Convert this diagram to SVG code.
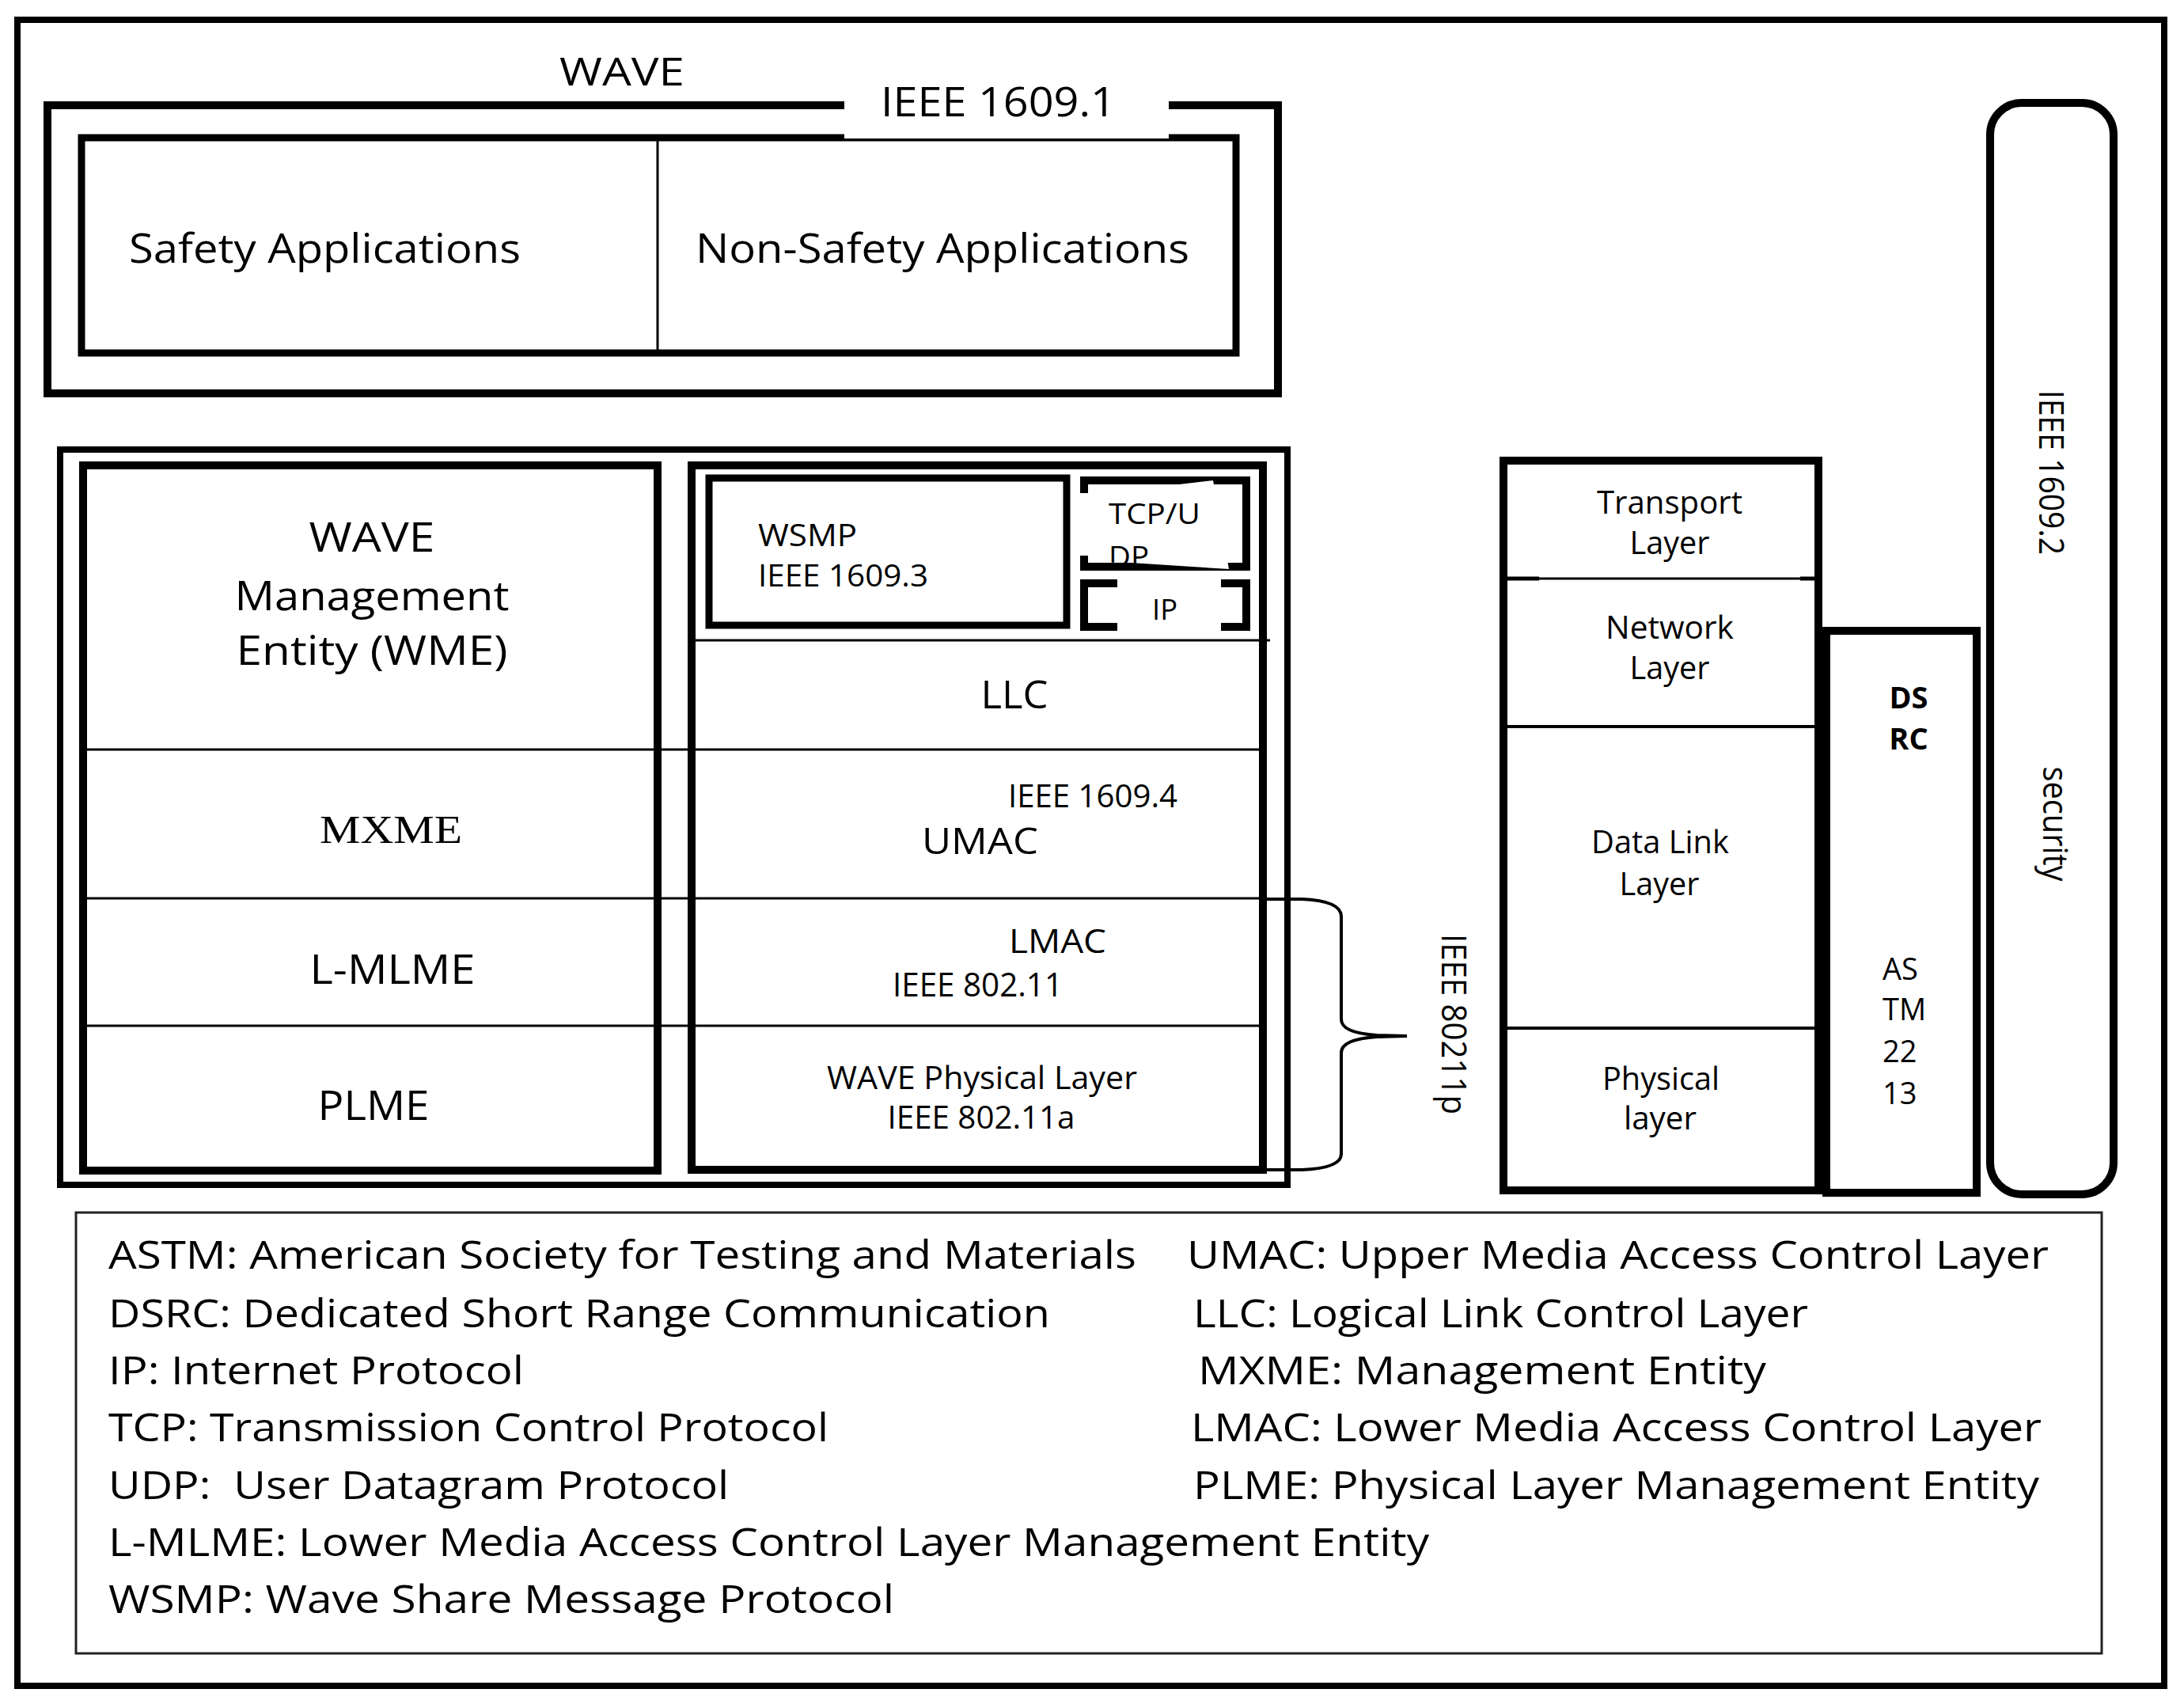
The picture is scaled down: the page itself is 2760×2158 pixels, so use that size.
<svg xmlns="http://www.w3.org/2000/svg" width="2760" height="2158" viewBox="0 0 2760 2158">
<style>
.t{font-family:"Open Sans","Noto Sans","DejaVu Sans",sans-serif;fill:#000}
.s{font-family:"Liberation Serif","DejaVu Serif",serif;fill:#000}
.b{font-weight:bold}
.box{fill:none;stroke:#000}
.thin{fill:none;stroke:#000;stroke-width:3}
.mid{text-anchor:middle}
</style>
<defs>
<clipPath id="tcpclip"><polygon points="1376,612 1490,612 1533,607 1553,719 1376,709"/></clipPath>
</defs>
<rect x="0" y="0" width="2760" height="2158" fill="#fff"/>

<g id="frame">
<rect class="box" x="22" y="25" width="2713" height="2105" stroke-width="8"/>
</g>

<g id="wave-title">
<text class="t mid" x="786" y="108" font-size="50" textLength="158" lengthAdjust="spacingAndGlyphs">WAVE</text>
</g>

<g id="applications">
<rect class="box" x="60" y="133" width="1555" height="364" stroke-width="10"/>
<rect class="box" x="103" y="174" width="1459" height="272" stroke-width="9"/>
<rect x="1067" y="116" width="410" height="59" fill="#fff"/>
<line class="thin" x1="831" y1="178" x2="831" y2="442"/>
<text class="t" x="1113" y="147" font-size="52" textLength="297" lengthAdjust="spacingAndGlyphs">IEEE 1609.1</text>
<text class="t" x="163" y="332" font-size="52" textLength="495" lengthAdjust="spacingAndGlyphs">Safety Applications</text>
<text class="t" x="879" y="332" font-size="52" textLength="624" lengthAdjust="spacingAndGlyphs">Non-Safety Applications</text>
</g>

<g id="wave-stack">
<rect class="box" x="76" y="568" width="1551" height="929" stroke-width="8"/>
</g>

<g id="management">
<rect class="box" x="105" y="588" width="726" height="891" stroke-width="10"/>
<text class="t mid" x="470" y="697" font-size="52" textLength="159" lengthAdjust="spacingAndGlyphs">WAVE</text>
<text class="t mid" x="470" y="771" font-size="52" textLength="347" lengthAdjust="spacingAndGlyphs">Management</text>
<text class="t mid" x="470" y="840" font-size="52" textLength="343" lengthAdjust="spacingAndGlyphs">Entity (WME)</text>
<text class="s mid" x="494" y="1065" font-size="51" textLength="180" lengthAdjust="spacingAndGlyphs">MXME</text>
<text class="t mid" x="496" y="1243" font-size="52" textLength="209" lengthAdjust="spacingAndGlyphs">L-MLME</text>
<text class="t mid" x="472" y="1415" font-size="52" textLength="141" lengthAdjust="spacingAndGlyphs">PLME</text>
</g>

<g id="protocols">
<rect class="box" x="874" y="588" width="722" height="890" stroke-width="10"/>
<line class="thin" x1="879" y1="809" x2="1605" y2="809"/>
<text class="t mid" x="1282" y="895" font-size="50" textLength="85" lengthAdjust="spacingAndGlyphs">LLC</text>
<text class="t" x="1274" y="1020" font-size="40" textLength="214" lengthAdjust="spacingAndGlyphs">IEEE 1609.4</text>
<text class="t" x="1165" y="1079" font-size="46" textLength="147" lengthAdjust="spacingAndGlyphs">UMAC</text>
<text class="t" x="1275" y="1204" font-size="42" textLength="123" lengthAdjust="spacingAndGlyphs">LMAC</text>
<text class="t" x="1128" y="1259" font-size="42" textLength="215" lengthAdjust="spacingAndGlyphs">IEEE 802.11</text>
<text class="t mid" x="1241" y="1376" font-size="40" textLength="392" lengthAdjust="spacingAndGlyphs">WAVE Physical Layer</text>
<text class="t mid" x="1240" y="1426" font-size="40" textLength="237" lengthAdjust="spacingAndGlyphs">IEEE 802.11a</text>
</g>

<g id="wsmp">
<rect class="box" x="896" y="604" width="452" height="186" stroke-width="9"/>
<text class="t" x="958" y="690" font-size="39" textLength="125" lengthAdjust="spacingAndGlyphs">WSMP</text>
<text class="t" x="958" y="741" font-size="39" textLength="215" lengthAdjust="spacingAndGlyphs">IEEE 1609.3</text>
</g>

<g id="tcp-udp">
<path class="box" stroke-width="10" d="M1370,623 L1370,607 L1575,607 L1575,716 L1370,716 L1370,702"/>
<polygon points="1398,612 1490,612 1533,607 1553,719 1398,709" fill="#fff"/>
<g clip-path="url(#tcpclip)">
<text class="t" x="1401" y="662" font-size="36" textLength="116" lengthAdjust="spacingAndGlyphs">TCP/U</text>
<text class="t" x="1401" y="716" font-size="36" textLength="51" lengthAdjust="spacingAndGlyphs">DP</text>
</g>
</g>

<g id="ip">
<path class="box" stroke-width="10" d="M1412,737 L1370,737 L1370,792 L1412,792"/>
<path class="box" stroke-width="10" d="M1543,737 L1575,737 L1575,792 L1543,792"/>
<text class="t" x="1456" y="783" font-size="36" textLength="32" lengthAdjust="spacingAndGlyphs">IP</text>
</g>

<g id="connectors">
<line class="thin" x1="110" y1="947" x2="1596" y2="947"/>
<line class="thin" x1="110" y1="1135" x2="1596" y2="1135"/>
<line class="thin" x1="110" y1="1296" x2="1596" y2="1296"/>
<path fill="none" stroke="#000" stroke-width="4" d="M1596,1136 L1645,1136 Q1695,1138 1695,1158 L1695,1288 Q1695,1305 1740,1308 L1778,1309 L1740,1310 Q1695,1313 1695,1330 L1695,1458 Q1695,1476 1645,1478 L1596,1478"/>
</g>

<g id="ieee80211p">
<text class="t mid" transform="translate(1822,1294) rotate(90)" font-size="44" textLength="228" lengthAdjust="spacingAndGlyphs">IEEE 80211p</text>
</g>

<g id="osi">
<rect class="box" x="1900" y="582" width="398" height="922" stroke-width="10"/>
<line class="thin" x1="1905" y1="731" x2="2293" y2="731"/>
<line fill="none" stroke="#000" stroke-width="5" x1="1905" y1="731" x2="1945" y2="731"/>
<line fill="none" stroke="#000" stroke-width="5" x1="2275" y1="731" x2="2293" y2="731"/>
<line fill="none" stroke="#000" stroke-width="4" x1="1905" y1="918" x2="2293" y2="918"/>
<line fill="none" stroke="#000" stroke-width="4" x1="1905" y1="1299" x2="2293" y2="1299"/>
<text class="t mid" x="2110" y="649" font-size="40" textLength="184" lengthAdjust="spacingAndGlyphs">Transport</text>
<text class="t mid" x="2110" y="700" font-size="40" textLength="101" lengthAdjust="spacingAndGlyphs">Layer</text>
<text class="t mid" x="2110" y="807" font-size="40" textLength="162" lengthAdjust="spacingAndGlyphs">Network</text>
<text class="t mid" x="2110" y="858" font-size="40" textLength="101" lengthAdjust="spacingAndGlyphs">Layer</text>
<text class="t mid" x="2098" y="1078" font-size="40" textLength="174" lengthAdjust="spacingAndGlyphs">Data Link</text>
<text class="t mid" x="2097" y="1131" font-size="40" textLength="101" lengthAdjust="spacingAndGlyphs">Layer</text>
<text class="t mid" x="2099" y="1377" font-size="40" textLength="148" lengthAdjust="spacingAndGlyphs">Physical</text>
<text class="t mid" x="2098" y="1427" font-size="40" textLength="92" lengthAdjust="spacingAndGlyphs">layer</text>
</g>

<g id="dsrc">
<rect class="box" x="2308" y="797" width="190" height="710" stroke-width="10"/>
<text class="t b mid" x="2412" y="895" font-size="38">DS</text>
<text class="t b mid" x="2412" y="947" font-size="38">RC</text>
<text class="t" x="2379" y="1238" font-size="38">AS</text>
<text class="t" x="2379" y="1289" font-size="38">TM</text>
<text class="t" x="2379" y="1342" font-size="38">22</text>
<text class="t" x="2379" y="1395" font-size="38">13</text>
</g>

<g id="security">
<rect class="box" x="2515" y="130" width="156" height="1379" rx="40" ry="40" stroke-width="10"/>
<text class="t mid" transform="translate(2577,597) rotate(90)" font-size="44" textLength="208" lengthAdjust="spacingAndGlyphs">IEEE 1609.2</text>
<text class="t mid" transform="translate(2582,1041) rotate(90)" font-size="44" textLength="145" lengthAdjust="spacingAndGlyphs">security</text>
</g>

<g id="legend">
<rect x="96" y="1532" width="2560" height="557" fill="none" stroke="#222" stroke-width="3"/>
<text class="t" x="137" y="1603" font-size="50" textLength="1299" lengthAdjust="spacingAndGlyphs">ASTM: American Society for Testing and Materials</text>
<text class="t" x="1500" y="1603" font-size="50" textLength="1089" lengthAdjust="spacingAndGlyphs">UMAC: Upper Media Access Control Layer</text>
<text class="t" x="137" y="1677" font-size="50" textLength="1190" lengthAdjust="spacingAndGlyphs">DSRC: Dedicated Short Range Communication</text>
<text class="t" x="1508" y="1677" font-size="50" textLength="777" lengthAdjust="spacingAndGlyphs">LLC: Logical Link Control Layer</text>
<text class="t" x="137" y="1749" font-size="50" textLength="525" lengthAdjust="spacingAndGlyphs">IP: Internet Protocol</text>
<text class="t" x="1514" y="1749" font-size="50" textLength="718" lengthAdjust="spacingAndGlyphs">MXME: Management Entity</text>
<text class="t" x="137" y="1821" font-size="50" textLength="910" lengthAdjust="spacingAndGlyphs">TCP: Transmission Control Protocol</text>
<text class="t" x="1505" y="1821" font-size="50" textLength="1075" lengthAdjust="spacingAndGlyphs">LMAC: Lower Media Access Control Layer</text>
<text class="t" x="137" y="1894" font-size="50" textLength="784" lengthAdjust="spacingAndGlyphs" xml:space="preserve" style="white-space:pre">UDP:  User Datagram Protocol</text>
<text class="t" x="1508" y="1894" font-size="50" textLength="1069" lengthAdjust="spacingAndGlyphs">PLME: Physical Layer Management Entity</text>
<text class="t" x="137" y="1966" font-size="50" textLength="1669" lengthAdjust="spacingAndGlyphs">L-MLME: Lower Media Access Control Layer Management Entity</text>
<text class="t" x="137" y="2038" font-size="50" textLength="993" lengthAdjust="spacingAndGlyphs">WSMP: Wave Share Message Protocol</text>
</g>
</svg>
